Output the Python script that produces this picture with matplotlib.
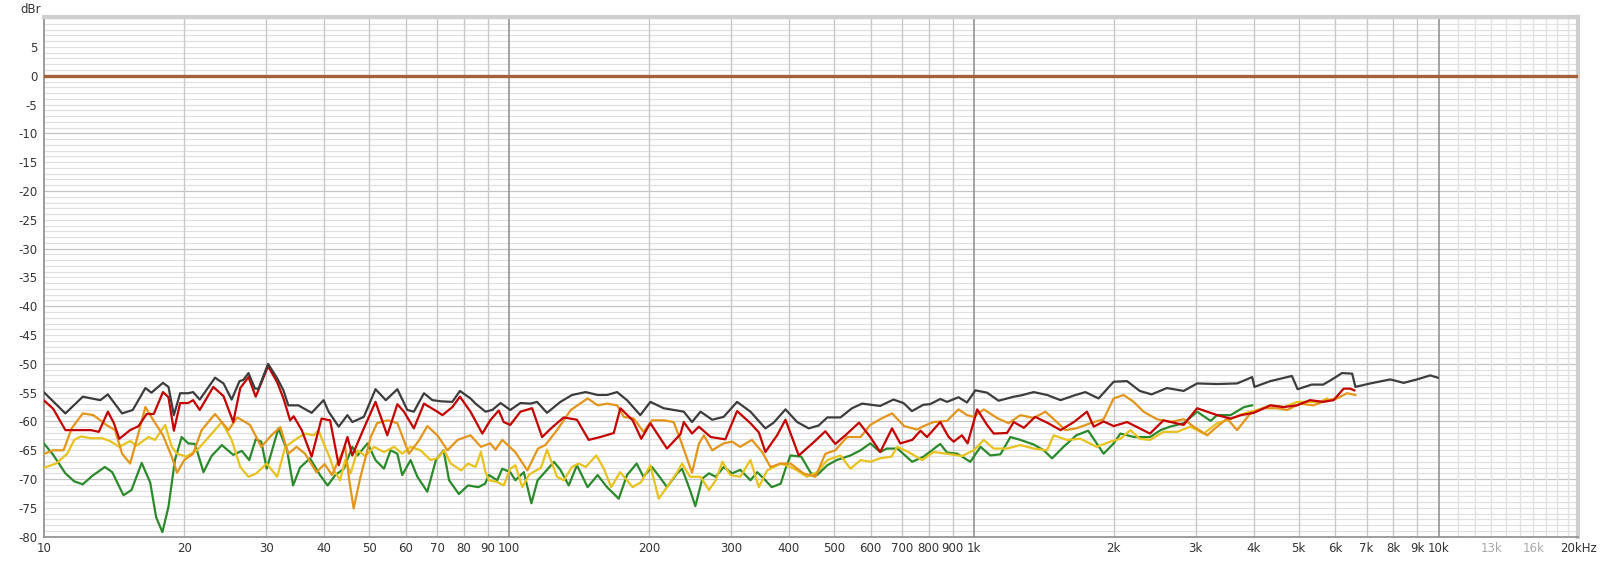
import matplotlib
matplotlib.use('Agg')
import matplotlib.pyplot as plt
import numpy as np

# values: (frequency Hz, level dBr)
gray_pts = [(10.0, -55.0), (11.1, -58.6), (12.1, -55.7), (13.2, -56.3), (13.7, -55.3), (14.7, -58.6),
            (15.5, -58.0), (16.5, -54.2), (17.0, -55.0), (18.0, -53.3), (18.5, -54.0), (19.0, -58.9),
            (19.6, -55.1), (20.4, -55.1), (20.9, -54.9), (21.6, -56.2), (23.3, -52.4), (24.3, -53.4),
            (25.3, -56.2), (26.3, -53.0), (26.8, -52.8), (27.5, -51.6), (28.4, -54.3), (28.9, -54.3),
            (30.3, -50.0), (31.7, -52.5), (32.7, -54.6), (33.5, -57.2), (35.2, -57.2), (37.6, -58.5),
            (39.9, -56.3), (40.9, -58.3), (43.0, -60.9), (44.9, -58.9), (46.0, -60.1), (48.7, -59.2),
            (51.6, -54.4), (54.3, -56.3), (57.5, -54.4), (60.4, -58.0), (62.4, -58.3), (65.6, -55.1),
            (68.4, -56.3), (71.3, -56.5), (75.5, -56.6), (78.4, -54.7), (82.6, -56.0), (84.7, -56.9),
            (89.0, -58.3), (92.0, -58.0), (95.9, -56.8), (100.6, -58.0), (105.8, -56.8), (111.2, -56.9),
            (114.9, -56.6), (120.7, -58.5), (129.0, -56.6), (136.6, -55.4), (146.2, -54.9), (155.1, -55.4),
            (162.5, -55.4), (170.8, -54.9), (179.4, -56.3), (191.6, -58.9), (201.4, -56.6), (215.1, -57.7),
            (226.0, -58.0), (237.7, -58.3), (247.6, -60.1), (258.2, -58.3), (273.6, -59.7), (289.6, -59.2),
            (309.5, -56.6), (330.7, -58.3), (356.1, -61.2), (371.1, -60.2), (393.4, -57.9), (416.8, -60.1),
            (441.5, -61.2), (463.6, -60.7), (484.0, -59.3), (516.5, -59.3), (547.0, -57.7), (575.0, -56.9),
            (629.0, -57.3), (671.7, -56.2), (706, -56.8), (736, -58.2), (779, -57.1), (805, -57.0),
            (847, -56.1), (876, -56.6), (927, -55.8), (967, -56.7), (1008, -54.6), (1068, -55.0),
            (1131, -56.4), (1219, -55.7), (1260, -55.5), (1346, -54.9), (1438, -55.4), (1537, -56.3),
            (1642, -55.5), (1738, -54.9), (1856, -56.0), (2000, -53.1), (2137, -53.0), (2276, -54.7),
            (2413, -55.3), (2603, -54.2), (2829, -54.7), (3024, -53.4), (3339, -53.5), (3686, -53.4),
            (3972, -52.3), (4018, -54.0), (4346, -53.0), (4837, -52.1), (4975, -54.4), (5334, -53.6),
            (5648, -53.6), (5900, -52.7), (6200, -51.6), (6520, -51.7), (6625, -54.0), (7130, -53.4),
            (7875, -52.7), (8415, -53.3), (8990, -52.7), (9600, -52.0), (9960, -52.4)]

red_pts = [(10.0, -56.4), (10.45, -57.8), (11.1, -61.5), (11.7, -61.5), (12.6, -61.5), (13.1, -61.8),
           (13.7, -58.3), (14.1, -60.2), (14.5, -63.0), (15.3, -61.5), (15.95, -60.8), (16.6, -58.7),
           (17.2, -58.7), (18.0, -54.9), (18.5, -55.8), (19.0, -61.6), (19.6, -56.8), (20.4, -56.8),
           (20.9, -56.3), (21.6, -58.0), (23.1, -54.0), (24.3, -55.6), (25.5, -60.1), (26.4, -54.2),
           (27.5, -52.3), (28.5, -55.7), (30.3, -50.4), (31.7, -53.2), (32.7, -56.0), (33.8, -59.8),
           (34.4, -59.1), (35.8, -61.5), (37.6, -66.1), (39.5, -59.5), (41.2, -59.8), (43.0, -67.6),
           (44.9, -62.7), (46.0, -65.9), (48.7, -61.2), (51.6, -56.6), (54.7, -62.4), (57.5, -57.0),
           (59.4, -58.3), (62.4, -61.2), (65.6, -56.9), (70.1, -58.3), (71.9, -58.9), (75.5, -57.5),
           (78.4, -55.7), (82.6, -58.3), (87.6, -62.1), (91.1, -59.8), (95.0, -58.1), (97.4, -60.1),
           (100.6, -60.6), (105.8, -58.3), (112.1, -57.7), (117.8, -62.7), (123.9, -61.0), (131.1, -59.3),
           (140.0, -59.7), (148.4, -63.2), (157.2, -62.7), (168.0, -62.0), (173.6, -57.7), (184.5, -59.8),
           (192.5, -63.0), (201.4, -60.3), (218.7, -64.7), (233.8, -62.2), (237.7, -60.1), (247.6, -62.1),
           (256.1, -60.9), (271.6, -62.7), (292.0, -63.1), (309.5, -58.2), (330.7, -60.3), (344.8, -61.9),
           (356.1, -65.3), (377.4, -62.4), (393.4, -59.7), (420.1, -65.9), (452.5, -63.6), (479.3, -61.7),
           (503.5, -63.9), (529.3, -62.4), (566.5, -60.2), (598.8, -62.7), (629.0, -65.3), (667.0, -61.2),
           (694.6, -63.8), (737, -63.2), (768, -61.6), (793, -62.7), (847, -60.1), (883, -62.7),
           (905, -63.5), (943, -62.4), (970, -63.8), (1017, -57.9), (1068, -60.6), (1104, -62.1),
           (1179, -62.0), (1219, -60.1), (1282, -61.1), (1355, -59.2), (1438, -60.2), (1537, -61.5),
           (1642, -60.1), (1752, -58.3), (1812, -60.9), (1903, -60.0), (2000, -60.8), (2137, -60.1),
           (2394, -62.1), (2560, -59.8), (2829, -60.6), (3024, -57.7), (3339, -58.9), (3570, -59.5),
           (3757, -58.9), (4004, -58.5), (4346, -57.2), (4646, -57.5), (4960, -57.2), (5290, -56.3),
           (5648, -56.6), (5947, -56.3), (6250, -54.3), (6460, -54.3), (6590, -54.6)]

orange_pts = [(10.0, -65.6), (10.45, -65.0), (11.0, -65.0), (11.45, -61.2), (12.1, -58.6), (12.75, -58.9),
              (13.6, -60.6), (14.2, -61.5), (14.7, -65.6), (15.3, -67.3), (15.8, -63.2), (16.5, -57.5),
              (17.2, -59.9), (18.0, -62.4), (18.8, -66.1), (19.3, -68.9), (20.0, -66.7), (20.9, -65.6),
              (21.8, -61.5), (23.3, -58.7), (24.9, -61.5), (26.0, -59.3), (26.8, -59.9), (27.7, -60.6),
              (29.3, -64.4), (30.8, -62.4), (32.2, -61.0), (33.5, -65.6), (34.9, -64.4), (36.4, -65.6),
              (38.5, -68.8), (40.1, -67.4), (41.6, -69.3), (42.6, -67.4), (44.4, -64.4), (45.3, -70.2),
              (46.3, -75.1), (47.9, -69.6), (50.4, -62.7), (52.0, -60.3), (54.8, -59.8), (57.5, -60.3),
              (60.9, -65.6), (64.0, -63.3), (66.7, -60.8), (70.1, -62.4), (73.7, -65.0), (77.5, -63.2),
              (82.6, -62.4), (87.0, -64.4), (91.1, -63.8), (93.5, -64.9), (96.7, -63.2), (103.1, -65.3),
              (109.5, -68.5), (115.4, -64.7), (119.7, -64.1), (126.8, -61.5), (135.8, -58.0), (147.6, -56.0),
              (155.1, -57.2), (162.5, -56.9), (170.8, -57.2), (176.6, -59.2), (185.6, -59.5), (194.6, -61.8),
              (203.0, -59.8), (215.1, -59.8), (226.0, -60.1), (233.8, -63.2), (247.6, -68.9), (256.1, -63.9),
              (262.6, -62.4), (273.6, -65.0), (289.6, -63.8), (302, -63.5), (314.4, -64.4), (333.1, -63.2),
              (350.4, -65.3), (365.2, -67.9), (384.1, -67.3), (403.2, -67.3), (429.8, -69.0), (456.3, -69.6),
              (479.3, -65.6), (503.5, -65.0), (533.6, -62.7), (570.7, -62.7), (598.8, -60.6), (629.0, -59.6),
              (667.0, -58.6), (708.2, -60.8), (754.6, -61.4), (779.9, -60.8), (819.4, -60.1), (876, -59.9),
              (927, -57.9), (967, -58.9), (1000, -59.2), (1051, -57.9), (1122, -59.4), (1188, -60.3),
              (1260, -58.9), (1346, -59.4), (1426, -58.3), (1486, -59.6), (1575, -61.5), (1662, -61.2),
              (1782, -60.3), (1903, -59.6), (2000, -56.0), (2101, -55.4), (2208, -56.6), (2319, -58.3),
              (2476, -59.6), (2645, -60.1), (2829, -59.6), (2973, -60.9), (3180, -62.4), (3339, -60.9),
              (3509, -59.5), (3686, -61.5), (3938, -58.6), (4205, -57.7), (4495, -57.7), (4725, -58.0),
              (5040, -56.9), (5380, -57.2), (5750, -56.3), (6050, -56.0), (6355, -55.1), (6625, -55.4)]

yellow_pts = [(10.0, -68.0), (10.6, -67.3), (11.2, -65.6), (11.6, -63.2), (12.0, -62.6), (12.6, -62.9),
              (13.3, -62.9), (13.85, -63.4), (14.5, -64.4), (15.3, -63.4), (15.8, -64.2), (16.75, -62.7),
              (17.3, -63.2), (18.2, -60.6), (18.8, -64.4), (19.3, -65.6), (20.2, -66.1), (21.3, -65.0),
              (22.3, -63.2), (24.1, -60.1), (25.3, -63.2), (26.4, -67.9), (27.5, -69.6), (28.6, -69.0),
              (30.1, -67.3), (31.7, -69.6), (33.0, -64.4), (34.9, -63.0), (36.4, -62.1), (38.0, -62.4),
              (38.9, -61.5), (39.9, -63.8), (41.2, -66.4), (42.0, -68.5), (43.3, -70.2), (44.4, -66.7),
              (45.6, -69.0), (47.2, -65.0), (49.1, -66.0), (51.2, -64.4), (53.8, -65.3), (56.6, -64.4),
              (58.9, -65.6), (61.4, -64.4), (64.5, -65.0), (67.8, -66.7), (70.1, -66.4), (72.5, -65.0),
              (74.9, -67.3), (78.9, -68.5), (81.6, -67.3), (84.7, -67.9), (87.0, -65.3), (89.0, -68.8),
              (90.5, -70.2), (94.3, -70.5), (97.4, -71.1), (100.6, -68.2), (103.2, -67.6), (106.8, -71.4),
              (110.5, -69.2), (117.2, -68.0), (120.7, -64.9), (126.8, -69.6), (131.1, -70.2), (136.6, -67.9),
              (141.2, -67.3), (146.2, -67.9), (154.1, -65.9), (160.0, -68.2), (165.9, -71.4), (173.4, -68.8),
              (184.5, -71.4), (192.5, -70.5), (201.4, -67.6), (209.9, -73.4), (218.7, -71.4), (230.0, -68.8),
              (235.7, -67.3), (245.1, -69.6), (258.2, -69.6), (269.3, -71.9), (278.5, -70.2), (287.8, -67.0),
              (299.4, -69.3), (314.4, -69.6), (330.7, -66.7), (344.8, -71.4), (359.1, -68.5), (384.1, -67.3),
              (403.2, -67.9), (416.8, -68.5), (437.4, -69.6), (460.1, -68.8), (484.0, -66.7), (516.5, -65.9),
              (542.7, -68.2), (570.7, -66.7), (598.8, -67.0), (629.0, -66.4), (664.9, -66.1), (684.8, -64.4),
              (723.0, -65.3), (774.6, -66.7), (819.4, -65.3), (876, -65.6), (943, -66.0), (1000, -65.0),
              (1051, -63.2), (1104, -64.7), (1179, -64.7), (1260, -64.1), (1346, -64.7), (1438, -65.0),
              (1486, -62.4), (1586, -63.2), (1695, -63.0), (1840, -64.4), (1967, -63.5), (2068, -63.0),
              (2172, -61.5), (2276, -63.0), (2394, -63.2), (2560, -61.8), (2740, -61.8), (2924, -60.9),
              (3124, -62.1), (3339, -60.3), (3570, -59.6), (3816, -58.6), (4070, -58.0), (4346, -57.2),
              (4646, -57.5), (4960, -56.6), (5290, -56.6), (5565, -56.6), (5750, -56.0)]

green_pts = [(10.0, -63.9), (10.45, -65.8), (11.1, -69.0), (11.6, -70.4), (12.1, -70.9), (12.7, -69.4),
             (13.5, -67.9), (14.0, -68.8), (14.8, -72.8), (15.4, -71.9), (16.2, -67.2), (16.9, -70.6),
             (17.4, -76.6), (17.95, -79.2), (18.5, -74.8), (19.1, -66.7), (19.75, -62.7), (20.4, -63.8),
             (21.1, -63.9), (22.0, -68.8), (22.9, -66.0), (24.1, -64.1), (25.5, -65.8), (26.6, -65.1),
             (27.6, -66.7), (28.5, -63.1), (29.3, -63.5), (30.1, -68.2), (31.9, -61.2), (33.3, -65.0),
             (34.3, -71.1), (35.5, -68.0), (37.3, -66.4), (39.2, -69.3), (40.7, -71.1), (42.3, -69.3),
             (44.1, -68.2), (46.0, -64.4), (47.2, -65.9), (49.6, -63.8), (51.6, -66.7), (53.8, -68.2),
             (55.6, -65.0), (57.5, -65.6), (58.9, -69.3), (61.4, -66.7), (63.5, -69.6), (66.7, -72.2),
             (69.6, -66.7), (72.3, -65.0), (74.3, -70.2), (78.0, -72.6), (81.6, -71.1), (85.9, -71.4),
             (88.8, -70.8), (90.5, -69.3), (94.3, -70.2), (96.7, -68.2), (100.6, -68.8), (103.2, -70.2),
             (107.6, -68.8), (111.7, -74.2), (115.2, -70.2), (120.7, -68.4), (124.9, -67.0), (129.0, -68.4),
             (134.4, -71.1), (140.0, -67.6), (147.6, -71.4), (155.1, -69.3), (162.5, -71.4), (172.2, -73.4),
             (179.4, -69.3), (188.2, -67.3), (194.6, -69.6), (203.0, -67.9), (212.1, -69.9), (218.7, -71.4),
             (230.0, -69.0), (235.7, -68.2), (245.1, -71.9), (251.7, -74.7), (260.6, -69.9), (269.3, -69.0),
             (278.5, -69.6), (289.6, -67.9), (302, -69.0), (314.4, -68.4), (330.7, -70.2), (342.0, -68.8),
             (356.1, -70.2), (367.5, -71.4), (384.1, -70.8), (393.4, -68.2), (403.2, -65.9), (425.3, -66.1),
             (446.4, -69.0), (460.1, -69.3), (484.0, -67.6), (506.9, -66.7), (542.7, -65.9), (570.7, -65.0),
             (598.8, -63.8), (629.0, -65.3), (650.0, -64.7), (684.8, -64.7), (737, -67.0), (779.9, -66.1),
             (847, -63.9), (876, -65.4), (922, -65.6), (983, -67.0), (1034, -64.4), (1086, -65.9),
             (1141, -65.7), (1199, -62.7), (1260, -63.2), (1346, -64.0), (1414, -65.0), (1474, -66.4),
             (1560, -64.4), (1662, -62.4), (1763, -61.6), (1903, -65.6), (2000, -63.8), (2068, -62.1),
             (2213, -62.7), (2394, -62.7), (2524, -61.5), (2645, -60.9), (2829, -60.3), (3024, -58.3),
             (3233, -59.9), (3339, -58.9), (3570, -58.9), (3816, -57.5), (3972, -57.2)]

ref_pts = [(10.0, 0.0), (19800, 0.0)]

# tick labels
y_ticks = list(range(5, -81, -5))
x_ticks = [10, 20, 30, 40, 50, 60, 70, 80, 90, 100, 200, 300, 400, 500, 600, 700, 800, 900, 1000,
           2000, 3000, 4000, 5000, 6000, 7000, 8000, 9000, 10000, 13000, 16000, 20000]
x_labels = ['10', '20', '30', '40', '50', '60', '70', '80', '90', '100', '200', '300', '400', '500',
            '600', '700', '800', '900', '1k', '2k', '3k', '4k', '5k', '6k', '7k', '8k', '9k', '10k',
            '13k', '16k', '20kHz']

fig = plt.figure(figsize=(16, 5.61), dpi=100)
ax = fig.add_axes([0.0277, 0.0433, 0.9588, 0.9264])
ax.set_xscale('log')
ax.set_xlim(10, 20000)
ax.set_ylim(-80, 10.2)

# horizontal grid, 1 dB steps
for v in range(-79, 11):
    c = '#c4c4c4' if v % 10 == 0 else '#e0e0e0'
    ax.axhline(v, color=c, lw=0.9, zorder=0)

# vertical grid
for dec in [10, 100, 1000]:
    for m in range(2, 10):
        ax.axvline(dec * m, color='#c8c8c8', lw=1.0, zorder=0)
for f in [100, 1000, 10000]:
    ax.axvline(f, color='#8a8a8a', lw=1.1, zorder=0)
for f in range(11000, 20000, 1000):
    ax.axvline(f, color='#e2e2e2', lw=1.0, zorder=0)

series = [(green_pts, '#2b8a2b'), (yellow_pts, '#e8c21e'), (orange_pts, '#e3951c'),
          (red_pts, '#c40000'), (gray_pts, '#3d3d3d')]
for pts, col in series:
    f, db = np.array(pts).T
    ax.plot(f, db, color=col, lw=1.6, solid_joinstyle='round', zorder=3)

rf, rdb = np.array(ref_pts).T
ax.plot(rf, rdb, color='#a5603a', lw=2.4, zorder=4)

ax.set_yticks(y_ticks)
ax.set_yticklabels([str(v) for v in y_ticks])
ax.set_xticks(x_ticks)
ax.set_xticklabels(x_labels)
ax.xaxis.set_minor_locator(matplotlib.ticker.NullLocator())
ax.tick_params(axis='both', length=0, labelsize=8.5, colors='#333333')
ax.tick_params(axis='x', pad=4)
ax.tick_params(axis='y', pad=5)
for lab in ax.get_xticklabels():
    if lab.get_text() in ('13k', '16k'):
        lab.set_color('#a8a8a8')

for side in ['left', 'bottom']:
    ax.spines[side].set_color('#8c8c8c')
    ax.spines[side].set_linewidth(1.2)
for side in ['top', 'right']:
    ax.spines[side].set_color('#cfcfcf')
    ax.spines[side].set_linewidth(3)

fig.text(0.013, 0.995, 'dBr', fontsize=8.5, color='#333333', va='top', ha='left')

fig.savefig('out.png', dpi=100)
